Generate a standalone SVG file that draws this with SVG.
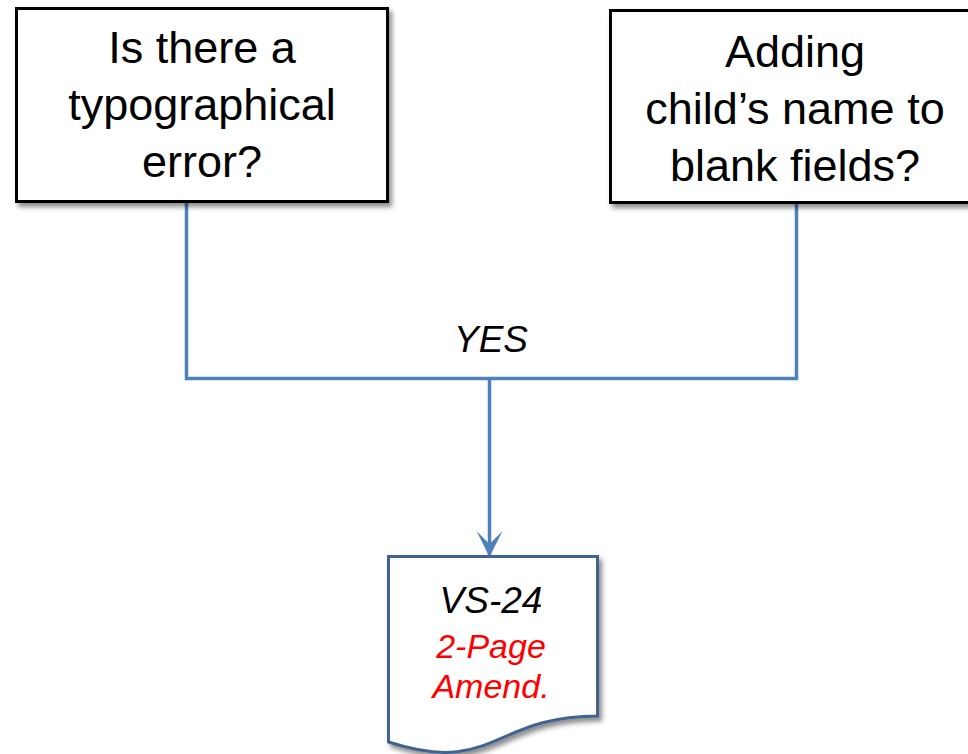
<svg xmlns="http://www.w3.org/2000/svg" width="968" height="754" viewBox="0 0 968 754">
<defs>
<style>
.box{fill:#fff;stroke:#000;stroke-width:3;filter:url(#sh)}
.doc{fill:#fff;stroke:#41648F;stroke-width:3;filter:url(#sh)}
.t{font-family:"Liberation Sans",Arial,sans-serif;font-size:45px;fill:#000;text-anchor:middle}
.i{font-family:"Liberation Sans",Arial,sans-serif;font-style:italic;text-anchor:middle}
.con{fill:none;stroke:#4F81BD;stroke-width:3.5}
</style>
<filter id="sh" x="-10%" y="-10%" width="130%" height="130%">
<feDropShadow dx="3" dy="4" stdDeviation="2.5" flood-color="#000" flood-opacity="0.45"/>
</filter>
<marker id="ah" viewBox="0 0 26 26" markerWidth="26" markerHeight="26" refX="25" refY="13" orient="auto" markerUnits="userSpaceOnUse">
<path d="M0,0 L26,13 L0,26 L13,13 Z" fill="#4F81BD"/>
</marker>
</defs>
<g id="connectors">
<path class="con" d="M186.5,203 V378.5 H796.5 V204"/>
<path class="con" d="M489.5,378.5 V556" marker-end="url(#ah)"/>
<text class="i" x="491" y="352" font-size="37">YES</text>
</g>
<g id="node-typo">
<rect class="box" x="16.5" y="8.5" width="371" height="193"/>
<text class="t" x="202" y="63">Is there a</text>
<text class="t" x="202" y="120">typographical</text>
<text class="t" x="202" y="177">error?</text>
</g>
<g id="node-child">
<rect class="box" x="610.5" y="10.5" width="380" height="192"/>
<text class="t" x="795" y="67">Adding</text>
<text class="t" x="795" y="124">child’s name to</text>
<text class="t" x="795" y="181">blank fields?</text>
</g>
<g id="node-vs24">
<path class="doc" d="M388.5,556.5 H597.5 V716 C493,716 493,776 388.5,742 Z"/>
<text class="i" x="491" y="613" font-size="37" fill="#000">VS-24</text>
<text class="i" x="491" y="658" font-size="34" fill="#FF0000">2-Page</text>
<text class="i" x="491" y="698" font-size="34" fill="#FF0000">Amend.</text>
</g>
</svg>
